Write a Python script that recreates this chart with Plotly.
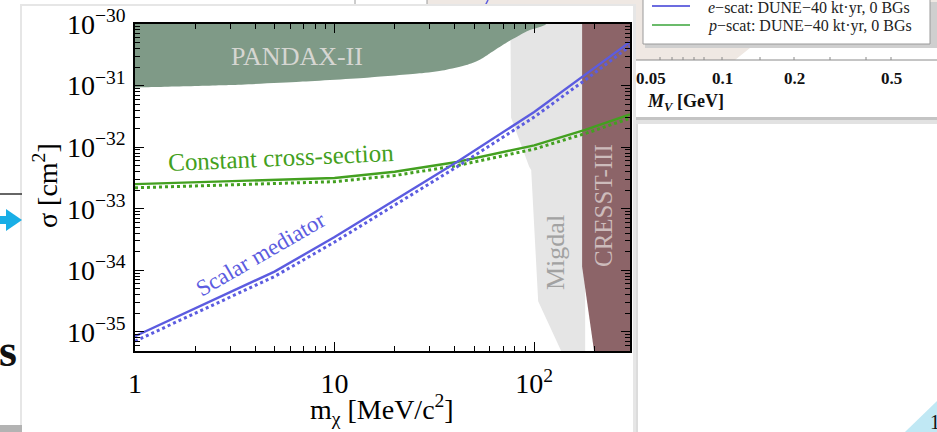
import plotly.graph_objects as go

# ---------------- data ----------------
mass_scalar = [1, 5, 10, 41, 100, 180, 302]
scalar_solid = [8.5e-36, 9.55e-35, 3.47e-34, 5.75e-33, 3.72e-32, 1.48e-31, 5.13e-31]
scalar_dotted = [7.08e-36, 7.94e-35, 2.88e-34, 4.79e-33, 3.09e-32, 1.23e-31, 4.37e-31]

mass_const = [1, 10, 20, 41, 100, 180, 302]
const_solid = [2.51e-33, 3.16e-33, 3.98e-33, 5.75e-33, 1.07e-32, 1.91e-32, 3.39e-32]
const_dotted = [2.19e-33, 2.75e-33, 3.47e-33, 5.01e-33, 9.3e-33, 1.66e-32, 2.95e-32]

pandax_x = [0.9, 1, 3, 6.7, 15, 26.6, 35.5, 45.7, 53.1, 59.6, 66.8, 75.0, 84.1, 94.4, 114.8, 114.8, 0.9]
pandax_y = [9.3e-32, 9.3e-32, 1.02e-31, 1.15e-31, 1.35e-31, 1.58e-31, 1.78e-31, 2.15e-31,
            2.6e-31, 3.3e-31, 4.2e-31, 5.3e-31, 6.5e-31, 7.9e-31, 1.0e-30, 2e-30, 2e-30]

migdal_x = [75.9, 76.6, 94.4, 96.6, 104.7, 136.5, 180, 180]
migdal_y = [2e-30, 3.0e-32, 4.8e-33, 4.27e-33, 3.16e-35, 4.9e-36, 4.9e-36, 2e-30]

cresst_x = [173.8, 173.8, 199.5, 400, 400]
cresst_y = [2e-30, 1.15e-34, 4.9e-36, 4.9e-36, 2e-30]

y_tickvals = [1e-35, 1e-34, 1e-33, 1e-32, 1e-31, 1e-30]
y_ticktext = ["10<sup>−35</sup>", "10<sup>−34</sup>", "10<sup>−33</sup>",
              "10<sup>−32</sup>", "10<sup>−31</sup>", "10<sup>−30</sup>"]
x_tickvals = [1, 10, 100]
x_ticktext = ["1", "10", "10<sup>2</sup>"]

top_axis_labels = ["0.05", "0.1", "0.2", "0.5"]
legend_labels = ["<i>e</i>−scat: DUNE−40 kt·yr, 0 BGs", "<i>p</i>−scat: DUNE−40 kt·yr, 0 BGs"]

# ---------------- colours / fonts ----------------
BLUE = "#5c5ce0"
GREEN = "#43a020"
PANDAX_C = "#7f9a87"
MIGDAL_C = "#e5e5e5"
CRESST_C = "#8c6468"
SERIF = "Liberation Serif"

# plot area in pixels
L, R, T, B = 135, 630, 24, 351
W, H = R - L, B - T


def px(x):
    return (x - L) / W


def py(y):
    return (B - y) / H


fig = go.Figure()

fig.add_trace(go.Scatter(x=migdal_x, y=migdal_y, fill="toself", fillcolor=MIGDAL_C,
                         line=dict(width=0), mode="lines", hoverinfo="skip"))
fig.add_trace(go.Scatter(x=pandax_x, y=pandax_y, fill="toself", fillcolor=PANDAX_C,
                         line=dict(width=0, shape="spline", smoothing=0.6), mode="lines",
                         hoverinfo="skip"))
fig.add_trace(go.Scatter(x=cresst_x, y=cresst_y, fill="toself", fillcolor=CRESST_C,
                         line=dict(width=0), mode="lines", hoverinfo="skip"))

fig.add_trace(go.Scatter(x=mass_const, y=const_dotted, mode="lines",
                         line=dict(color=GREEN, width=3, dash="dot")))
fig.add_trace(go.Scatter(x=mass_const, y=const_solid, mode="lines",
                         line=dict(color=GREEN, width=2.4)))
fig.add_trace(go.Scatter(x=mass_scalar, y=scalar_dotted, mode="lines",
                         line=dict(color=BLUE, width=3, dash="dot")))
fig.add_trace(go.Scatter(x=mass_scalar, y=scalar_solid, mode="lines",
                         line=dict(color=BLUE, width=2.4)))
# invisible trace to activate the mirrored (top/right) axes
fig.add_trace(go.Scatter(x=[2], y=[1e-33], xaxis="x2", yaxis="y2", mode="markers",
                         marker=dict(opacity=0), hoverinfo="skip"))

# minor tick positions
x_minor = [m * 10 ** d for d in range(0, 3) for m in range(2, 10) if m * 10 ** d < 310]
y_minor = [m * 10.0 ** d for d in range(-36, -30) for m in range(2, 10)]

XR = [0, 2.48]
YR = [-35.31, -30]

axis_common = dict(showline=True, linecolor="black", linewidth=1.5,
                   ticks="inside", ticklen=9, tickwidth=1.2, tickcolor="black",
                   showgrid=False, zeroline=False, type="log", tickmode="array",
                   tickfont=dict(family=SERIF, size=28, color="black"))
x_minor_d = dict(tickmode="array", tickvals=x_minor, ticks="inside",
                 ticklen=5, tickwidth=1, tickcolor="black", showgrid=False)
y_minor_d = dict(tickmode="array", tickvals=y_minor, ticks="inside",
                 ticklen=5, tickwidth=1, tickcolor="black", showgrid=False)

fig.update_layout(
    xaxis=dict(range=XR, tickvals=x_tickvals, ticktext=x_ticktext, ticklabelstandoff=7,
               minor=x_minor_d, **axis_common),
    yaxis=dict(range=YR, tickvals=y_tickvals, ticktext=y_ticktext, ticklabelstandoff=2,
               minor=y_minor_d, **axis_common),
    xaxis2=dict(range=XR, tickvals=x_tickvals, overlaying="x", side="top", anchor="y",
                showticklabels=False, minor=x_minor_d, **axis_common),
    yaxis2=dict(range=YR, tickvals=y_tickvals, overlaying="y", side="right", anchor="x",
                showticklabels=False, minor=y_minor_d, **axis_common),
)

shapes = []


def rect(x0, y0, x1, y1, color, line_color=None, lw=0):
    shapes.append(dict(type="rect", xref="paper", yref="paper", layer="below",
                       x0=px(x0), x1=px(x1), y0=py(y1), y1=py(y0),
                       fillcolor=color,
                       line=dict(width=lw, color=line_color or color)))


def seg(x0, y0, x1, y1, color, w=1.5, layer="below"):
    shapes.append(dict(type="line", xref="paper", yref="paper", layer=layer,
                       x0=px(x0), x1=px(x1), y0=py(y0), y1=py(y1),
                       line=dict(color=color, width=w)))


def poly(points, color):
    path = "M " + " L ".join(f"{px(a):.5f},{py(b):.5f}" for a, b in points) + " Z"
    shapes.append(dict(type="path", xref="paper", yref="paper", layer="below",
                       path=path, fillcolor=color, line=dict(width=0)))


# ---- background slide pieces ----
poly([(427, 0), (937, 0), (937, 48), (750, 48), (735, 60), (427, 60)], "#efe8e3")
rect(633, 60, 937, 117, "white")
rect(633, 117, 937, 120, "#c4c4c4")
rect(633, 120, 937, 124, "#e2e2e2")
rect(645, 2, 937, 48, "#cfcfcf")
rect(643, -2, 930, 44, "white", "#9a9a9a", 1)
seg(652, 6, 690, 6, "#3b3bd6", 1.5)
seg(652, 25, 690, 25, "#3aa53a", 1.5)
seg(636, 60, 937, 60, "#8a8a8a", 1)
for tx in [660, 672, 683, 694, 704, 722, 760, 794, 830, 866, 891]:
    seg(tx, 57, tx, 60, "#8a8a8a", 1)
seg(484, 8, 488, 0, BLUE, 1.5)
seg(355, 0, 355, 6, "#9a9a9a", 1)
seg(427, 0, 427, 6, "#9a9a9a", 1)
rect(634, 124, 638, 432, "#dcdcdc")
rect(20, 4, 636, 432, "#e6e6e6")
rect(22, 6, 633, 432, "white")
seg(0, 194, 22, 194, "#333333", 1.5)
rect(0, 216, 7, 224, "#19aee6")
poly([(6, 209), (6, 231), (22, 220)], "#19aee6")
rect(0, 425, 22, 432, "#b3b3b3")
poly([(905, 432), (937, 432), (937, 401)], "#c0e8f4")

annotations = []


def text(x, y, s, size, color="black", angle=0, xanchor="center", bold=False,
         family=SERIF):
    annotations.append(dict(x=px(x), y=py(y), xref="paper", yref="paper", text=s,
                            showarrow=False, xanchor=xanchor, yanchor="middle",
                            textangle=angle,
                            font=dict(family=family, size=size, color=color,
                                      weight="bold" if bold else "normal")))


text(297, 57, "PANDAX-II", 26, "#d6d6d2")
text(281, 158, "Constant cross-section", 25, GREEN, angle=-2.6)
text(260, 254, "Scalar mediator", 23, BLUE, angle=-30)
text(556, 253, "Migdal", 26, "#a2a2a2", angle=-90)
text(603, 206, "CRESST-III", 25, "#cdbbbb", angle=-90)
text(45, 186, "σ [cm<sup>2</sup>]", 28, angle=-90)
text(382, 409, "m<sub>χ</sub> [MeV/c<sup>2</sup>]", 28)

text(706, 8, legend_labels[0], 16, "#222222", xanchor="left")
text(706, 26, legend_labels[1], 16, "#222222", xanchor="left")
for lab, cx in zip(top_axis_labels, [651, 722, 794, 891]):
    text(cx, 78, lab, 17, "#111111", bold=True)
text(645, 102, "<i>M<sub>V</sub></i> [GeV]", 18, "#111111", xanchor="left", bold=True)
text(-3, 350, "s", 46, "#111111", xanchor="left", bold=True)
text(928, 422, "1", 20, "#111111", xanchor="left")

fig.update_layout(width=937, height=432,
                  margin=dict(l=L, r=937 - R, t=T, b=432 - B, autoexpand=False),
                  paper_bgcolor="white", plot_bgcolor="rgba(0,0,0,0)",
                  showlegend=False, shapes=shapes, annotations=annotations)

post = ("document.body.style.margin='0px';document.body.style.overflow='hidden';"
        "var g=document.getElementById('{plot_id}');g.style.position='absolute';"
        "g.style.left='0px';g.style.top='0px';")
fig.write_html("out.html", post_script=post, config={"displayModeBar": False})
